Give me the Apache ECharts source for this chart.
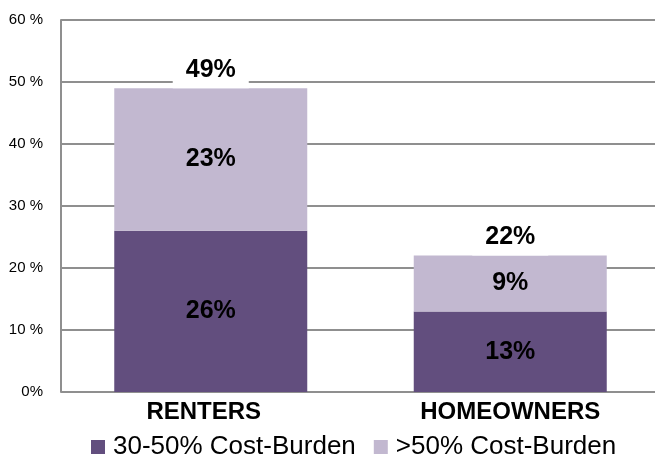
<!DOCTYPE html>
<html>
<head>
<meta charset="utf-8">
<script src="https://cdn.jsdelivr.net/npm/echarts@6/dist/echarts.min.js"></script>
<style>
  html, body { margin: 0; padding: 0; background: #fff; }
  #chart { width: 655px; height: 457px; }
</style>
</head>
<body>
<div id="chart"></div>
<script>
const categories = ['RENTERS', 'HOMEOWNERS'];
const moderate = [26, 13];   // 30-50% cost-burden
const severe = [23, 9];      // >50% cost-burden
const totals = [49, 22];

const chart = echarts.init(document.getElementById('chart'));

const font = 'Liberation Sans, Arial, sans-serif';

const segLabel = {
  show: true,
  position: 'inside',
  formatter: p => p.value + '%',
  color: '#000',
  fontFamily: font,
  fontWeight: 'bold',
  fontSize: 25
};

const catStyle = { color: '#000', fontFamily: font, fontWeight: 'bold', fontSize: 24 };

chart.setOption({
  animation: false,
  grid: { left: 61, width: 599, top: 20, bottom: 65, outerBoundsMode: 'none' },
  legend: {
    top: 429,
    left: 86,
    itemWidth: 14,
    itemHeight: 14,
    itemGap: 18,
    icon: 'rect',
    textStyle: { fontFamily: font, fontSize: 26, color: '#000', padding: [0, 0, 0, 3] },
    data: ['30-50% Cost-Burden', '>50% Cost-Burden']
  },
  xAxis: {
    type: 'category',
    data: categories,
    axisTick: { show: false },
    axisLine: { show: false },
    axisLabel: {
      margin: 8,
      formatter: (v, i) => (i === 0 ? '{a|' + v + '}' : '{b|' + v + '}'),
      rich: {
        a: Object.assign({ padding: [0, 14, 0, 0] }, catStyle),
        b: catStyle
      }
    }
  },
  yAxis: {
    type: 'value',
    min: 0,
    max: 60,
    interval: 10,
    axisLine: { show: true, lineStyle: { color: '#8f8f8f', width: 2 } },
    axisTick: { show: false },
    splitLine: { lineStyle: { color: '#8f8f8f', width: 2 } },
    axisLabel: {
      margin: 18,
      color: '#000',
      fontFamily: font,
      fontSize: 15,
      formatter: v => (v === 0 ? '0%' : v + ' %')
    }
  },
  series: [
    {
      name: '30-50% Cost-Burden',
      type: 'bar',
      stack: 'burden',
      barWidth: 193,
      data: moderate,
      itemStyle: { color: '#624e7e' },
      label: segLabel
    },
    {
      name: '>50% Cost-Burden',
      type: 'bar',
      stack: 'burden',
      barWidth: 193,
      data: severe,
      itemStyle: { color: '#c2b8d0' },
      label: segLabel
    },
    {
      name: 'Total',
      type: 'bar',
      barWidth: 193,
      barGap: '-100%',
      data: totals,
      itemStyle: { color: 'rgba(0,0,0,0)' },
      silent: true,
      z: 5,
      label: {
        show: true,
        position: 'top',
        distance: 0,
        formatter: p => p.value + '%',
        color: '#000',
        fontFamily: font,
        fontWeight: 'bold',
        fontSize: 25,
        lineHeight: 25,
        backgroundColor: '#fff',
        padding: [2, 13, 6, 13]
      }
    }
  ]
});
</script>
</body>
</html>
